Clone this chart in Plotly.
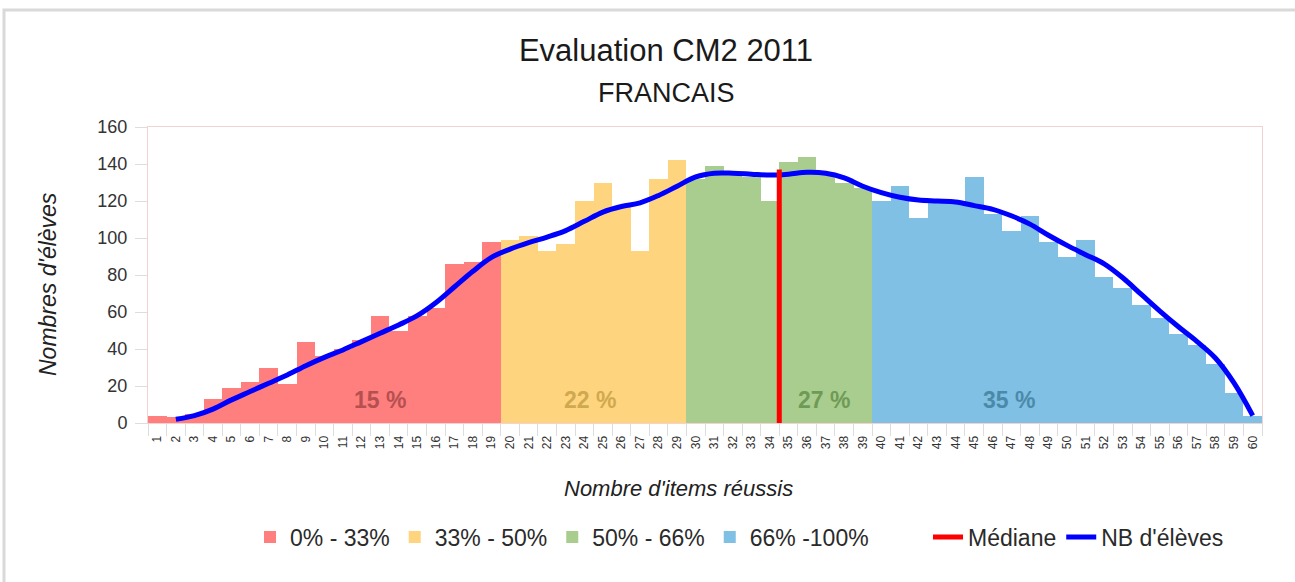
import plotly.graph_objects as go

# ---------------- data ----------------
items = list(range(1, 61))
counts = [4, 3, 5, 13, 19, 22, 30, 21, 44, 36, 40, 45, 58, 50, 58, 62, 86, 87, 98,
          99, 101, 93, 97, 120, 130, 117, 93, 132, 142,
          132, 139, 134, 133, 120, 141, 144, 135, 130, 127,
          120, 128, 111, 120, 119, 133, 113, 104, 112, 98, 90, 99, 79, 73, 64, 57,
          48, 42, 32, 16, 4]

group_names = ["0% - 33%", "33% - 50%", "50% - 66%", "66% -100%"]
group_first = [1, 20, 30, 40]
group_last = [19, 29, 39, 60]
group_colors = ["#ff7f7f", "#ffd47f", "#a9cd8f", "#7fc0e4"]
group_pct = ["15 %", "22 %", "27 %", "35 %"]
pct_colors = ["#a94848", "#c7a247", "#66924d", "#44809f"]
pct_x = [13, 24.3, 36.9, 46.9]

line_items = list(range(2, 61))
line_values = [2, 4, 7.5, 12.5, 17, 21.5, 26, 31, 35.5, 39.5, 44, 48.5, 53, 58,
               65, 73.5, 82, 89.5, 94, 97.5, 100.5, 104, 109, 114, 117, 119, 123,
               128, 133, 135, 135, 134.5, 134, 134.5, 135.5, 135, 132.5, 128,
               124.5, 122, 120.5, 120, 119.5, 117.5, 115.5, 112, 107.5, 101.5,
               96, 91, 86, 78.5, 69.5, 60.5, 52, 44, 35, 21.5, 4]

median_item = 34.5
median_top = 137

FONT = "Liberation Sans, Arial, sans-serif"

fig = go.Figure()

for name, a, b, col in zip(group_names, group_first, group_last, group_colors):
    xs = [i for i in items if a <= i <= b]
    ys = [counts[i - 1] for i in xs]
    fig.add_trace(go.Bar(x=xs, y=ys, width=1, name=name,
                         marker=dict(color=col, line=dict(width=0)),
                         legend="legend", hoverinfo="x+y"))

fig.add_trace(go.Scatter(x=line_items, y=line_values, mode="lines",
                         name="NB d'élèves",
                         line=dict(color="#0000ff", width=5, shape="spline", smoothing=1),
                         legend="legend2", legendrank=2))

fig.add_trace(go.Scatter(x=[median_item, median_item], y=[0, median_top], mode="lines",
                         name="Médiane", line=dict(color="#ff0000", width=5),
                         legend="legend2", legendrank=1))

for txt, col, xx in zip(group_pct, pct_colors, pct_x):
    fig.add_annotation(x=xx, y=12.5, text="<b>%s</b>" % txt, showarrow=False,
                       font=dict(family=FONT, size=23, color=col),
                       xanchor="center", yanchor="middle", opacity=0.85)

L, R, T, B = 148, 33, 127, 159
W, H = 1295, 582
pw, ph = W - L - R, H - T - B

def px(x):
    return (x - L) / pw

def py(y):
    return (H - B - y) / ph

fig.add_annotation(text="FRANCAIS", xref="paper", yref="paper",
                   x=px(666), y=py(93), showarrow=False,
                   font=dict(family=FONT, size=27, color="#1a1a1a"),
                   xanchor="center", yanchor="middle")

# axis titles
fig.add_annotation(text="<i>Nombre d'items réussis</i>", xref="paper", yref="paper",
                   x=px(678), y=py(488), showarrow=False,
                   font=dict(family=FONT, size=22, color="#222222"),
                   xanchor="center", yanchor="middle")
fig.add_annotation(text="<i>Nombres d'élèves</i>", xref="paper", yref="paper",
                   x=px(48), y=py(284), showarrow=False, textangle=-90,
                   font=dict(family=FONT, size=23, color="#222222"),
                   xanchor="center", yanchor="middle")

# outer frame
fig.add_shape(type="rect", xref="paper", yref="paper",
              x0=px(4), x1=px(1310), y0=py(600), y1=py(10),
              line=dict(color="#d9d9d9", width=3), fillcolor="rgba(0,0,0,0)",
              layer="below")

fig.update_layout(
    width=W, height=H,
    margin=dict(l=L, r=R, t=T, b=B),
    paper_bgcolor="white", plot_bgcolor="white",
    font=dict(family=FONT, color="#333333"),
    barmode="overlay", bargap=0,
    title=dict(text="Evaluation CM2 2011", x=666 / W, xanchor="center",
               y=1 - 50 / H, yanchor="middle", xref="container", yref="container",
               font=dict(family=FONT, size=31, color="#1a1a1a")),
    xaxis=dict(range=[0.5, 60.5], tickmode="array", tickvals=items,
               ticktext=[str(i) for i in items], tickangle=-90,
               tickfont=dict(size=12, color="#333333"), ticklabelstandoff=7,
               showline=True, linecolor="#f3d2d2", linewidth=1, mirror=True,
               showgrid=False, zeroline=False, ticks="",
               minor=dict(tick0=0.5, dtick=1, ticks="outside", ticklen=12,
                          tickcolor="#dddddd", tickwidth=1, showgrid=False)),
    yaxis=dict(range=[0, 160], dtick=20, tick0=0,
               tickfont=dict(size=18, color="#333333"),
               ticks="outside", ticklen=12, tickcolor="#dddddd", ticklabelstandoff=4,
               showline=True, linecolor="#f3d2d2", linewidth=1, mirror=True,
               showgrid=False, zeroline=False),
    legend=dict(orientation="h", x=px(250), y=py(537), xanchor="left", yanchor="middle",
                font=dict(size=23, color="#2a2a2a"), itemwidth=30, traceorder="normal",
                bgcolor="rgba(0,0,0,0)"),
    legend2=dict(orientation="h", x=px(928), y=py(537), xanchor="left", yanchor="middle",
                 font=dict(size=23, color="#2a2a2a"), itemwidth=30, traceorder="normal",
                 bgcolor="rgba(0,0,0,0)"),
    showlegend=True,
)

fig.write_html("out.html", config={"displayModeBar": False},
               post_script="document.body.style.margin='0';")
